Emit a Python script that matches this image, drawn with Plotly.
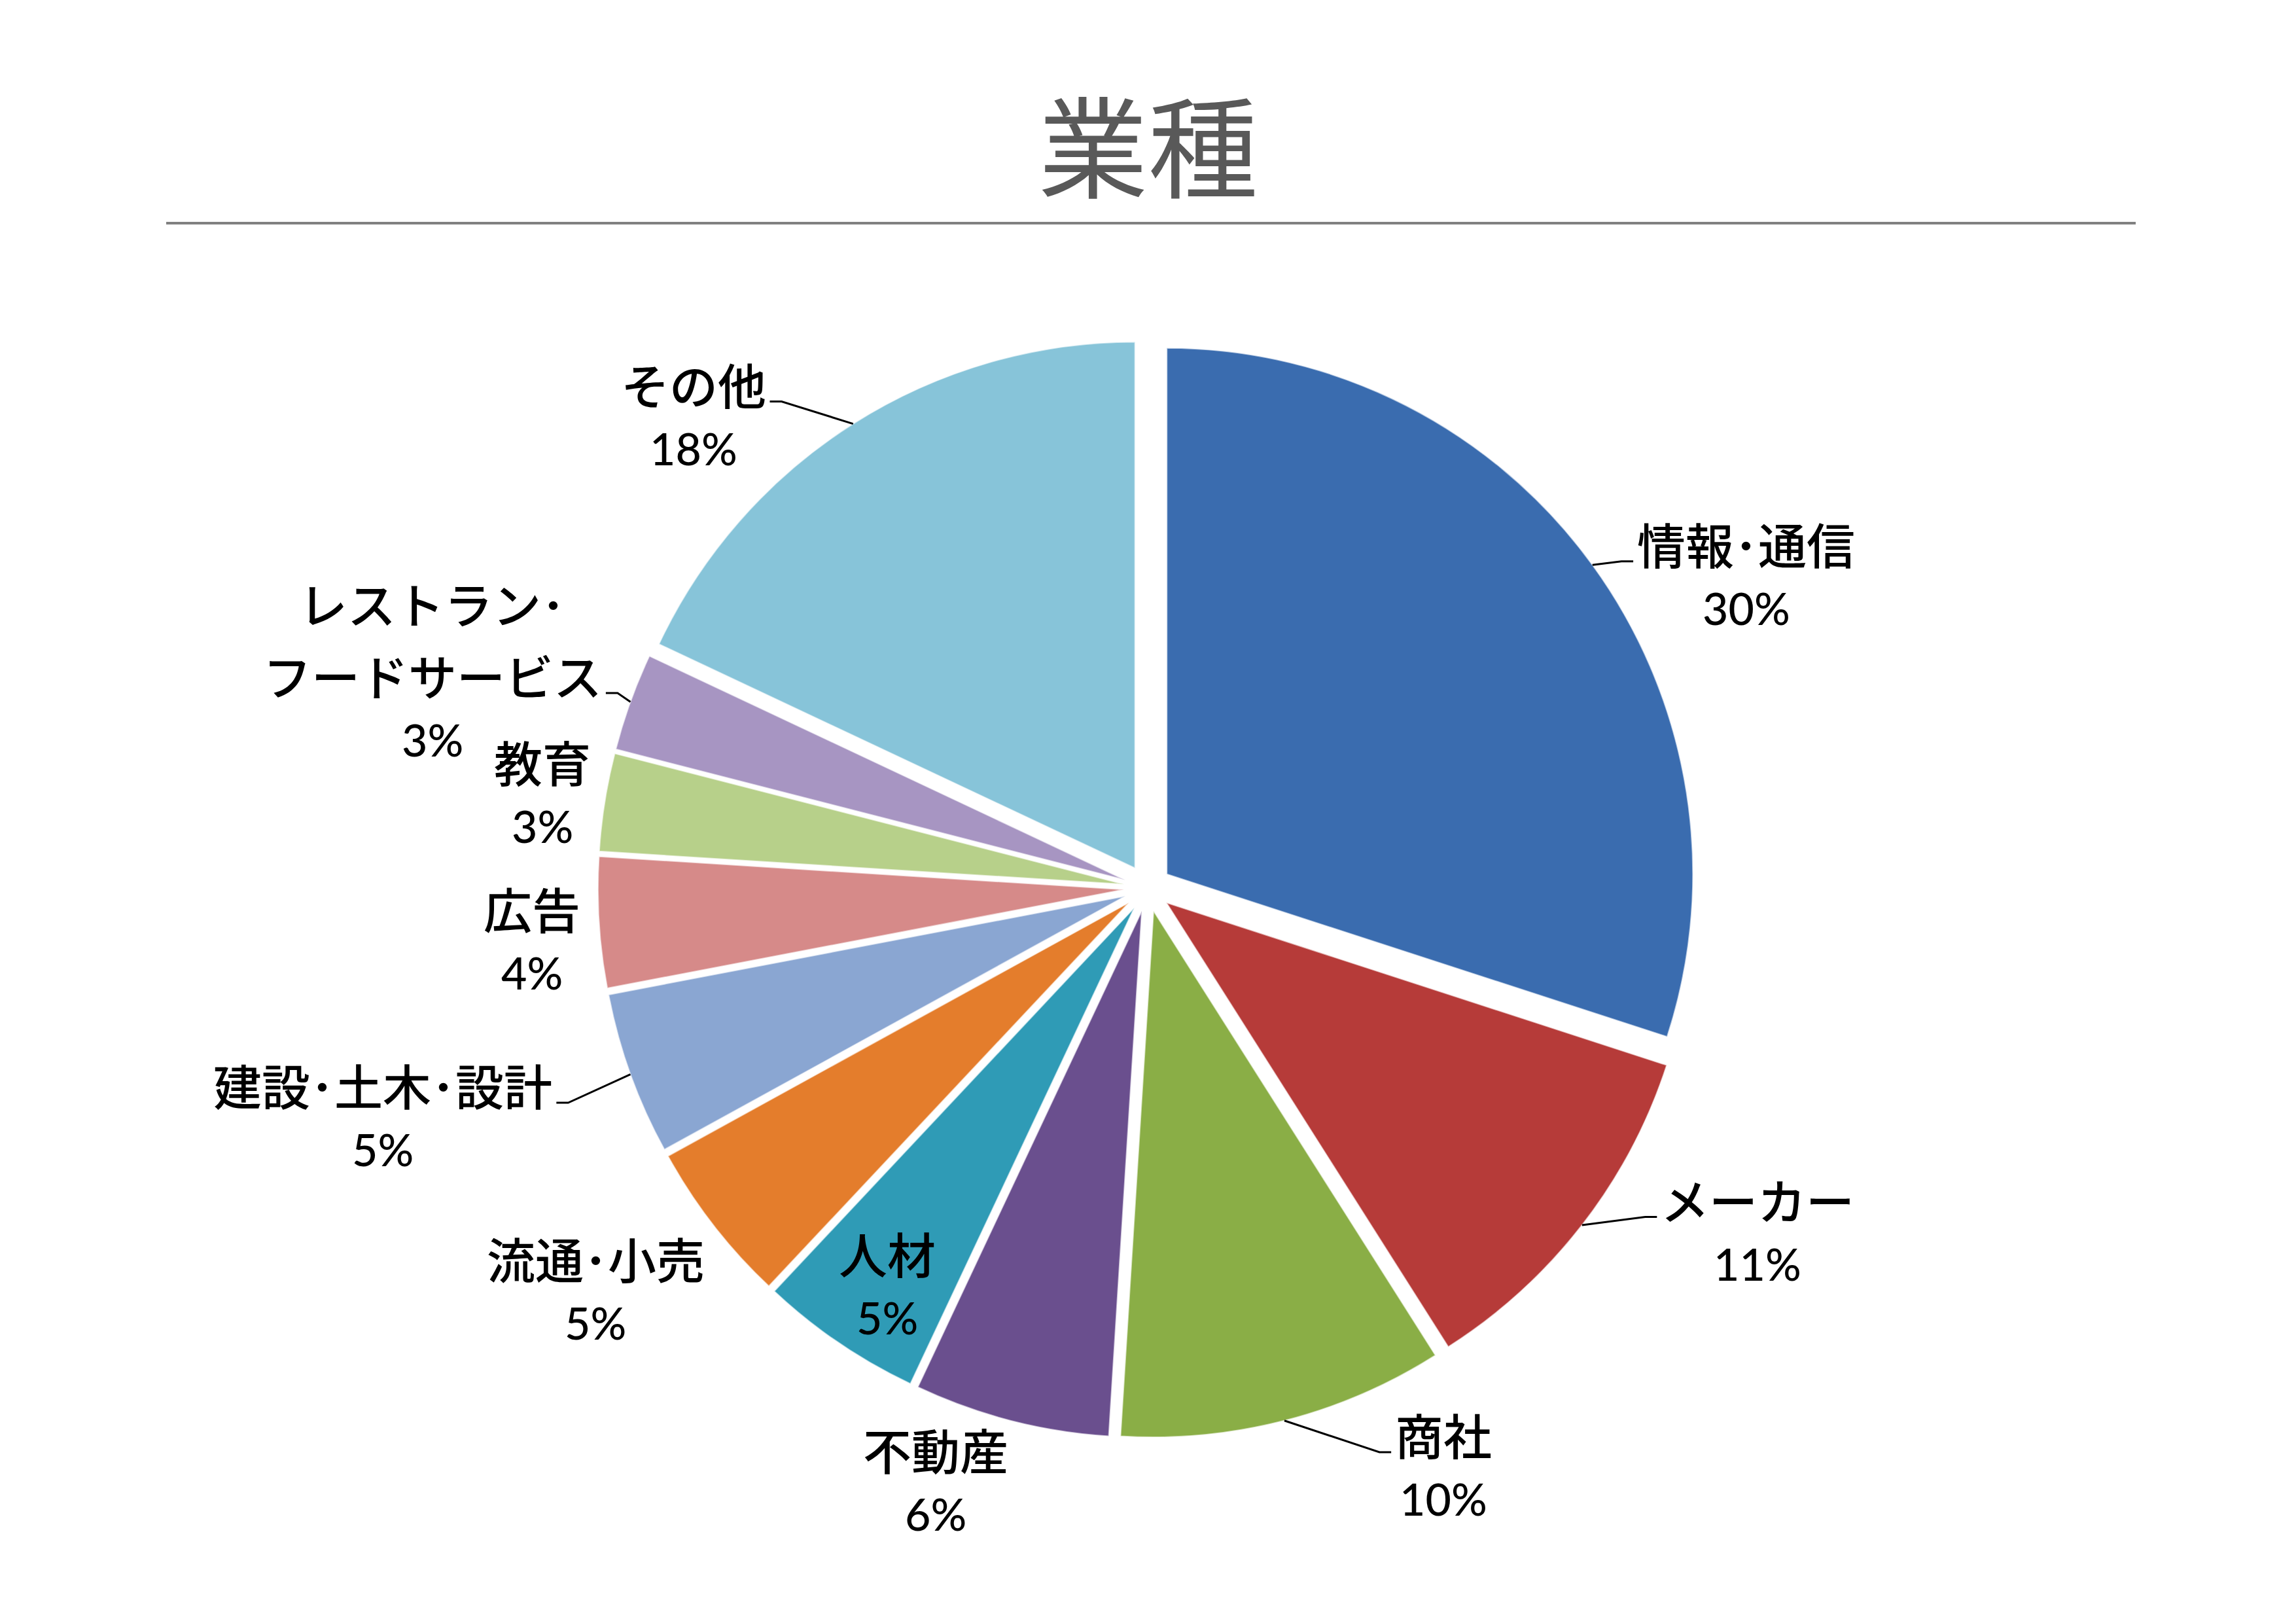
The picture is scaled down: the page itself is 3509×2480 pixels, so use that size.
import math
import plotly.graph_objects as go

# data
industries = ['情報･通信', 'メーカー', '商社', '不動産', '人材', '流通･小売',
              '建設･土木･設計', '広告', '教育', 'レストラン･<br>フードサービス', 'その他']
shares = [30, 11, 10, 6, 5, 5, 5, 4, 3, 3, 18]
colors = ['#3A6CAF', '#B63B39', '#8AAE46', '#6A4F8E', '#2F9BB6', '#E47D2C',
          '#8AA6D2', '#D68A89', '#B7D08A', '#A795C2', '#87C4D9']

# label placement (radius factor, angle nudge in degrees, leader line row or None)
label_r = [1.279, 1.335, 1.243, 1.206, 0.91, 1.304, 1.52, 1.175, 1.163, 1.418, 1.239]
label_da = [8.8, -8.1, -12.5, 5.1, -1.2, 1.4, 2.8, -1.7, -0.6, -3.3, -11.8]
leader_row = [0, 0, 0, None, None, None, 0, None, None, 1, 0]

W, H = 3509, 2480
CX, CY, R = 1754, 1357, 804
PULL = 0.045
FS = 74        # category names
FS_PCT = 68    # percentages
LABEL_DY = -8
font_jp = 'Noto Sans CJK JP'
font_num = 'Lato'


def em_width(s):
    w = 0
    for ch in s:
        if ch == '･':
            w += 0.5
        elif ord(ch) < 128:
            w += 0.56
        else:
            w += 1.0
    return w * FS


def to_paper(x, y):
    return x / W, 1 - y / H


half = R * (1 + PULL)
fig = go.Figure()
fig.add_trace(go.Pie(
    labels=[s.replace('<br>', '') for s in industries],
    values=shares,
    sort=False,
    direction='clockwise',
    rotation=0,
    pull=[PULL] * len(shares),
    marker=dict(colors=colors, line=dict(color='rgba(255,255,255,0.6)', width=2)),
    textinfo='none',
    showlegend=False,
    domain=dict(x=[(CX - half) / W, (CX + half) / W],
                y=[1 - (CY + half) / H, 1 - (CY - half) / H]),
))

total = sum(shares)
annotations = []
shapes = [dict(
    type='line', xref='paper', yref='paper',
    x0=254 / W, x1=3264 / W, y0=1 - 341 / H, y1=1 - 341 / H,
    line=dict(color='#808080', width=4),
)]

# half heights of the text boxes, used to keep rows apart
box_jp = 0.73 * FS
box_num = 0.63 * FS_PCT
base_gap = 1.3 * FS

cum = 0
for i, (name, v) in enumerate(zip(industries, shares)):
    mid = (cum + v / 2) / total * 360
    cum += v
    ang = math.radians(mid + label_da[i])
    lx = CX + R * label_r[i] * math.sin(ang)
    ly = CY - R * label_r[i] * math.cos(ang) + LABEL_DY

    rows = name.split('<br>')
    pct = '%d%%' % round(v / total * 100)
    items = [(r, font_jp, FS, box_jp) for r in rows] + [(pct, font_num, FS_PCT, box_num)]
    offs = [0.0]
    for a, b in zip(items[:-1], items[1:]):
        offs.append(offs[-1] + max(base_gap, a[3] + b[3] + 2))
    shift = offs[-1] / 2
    ys = [ly + o - shift for o in offs]

    for (txt, fam, size, _), yy in zip(items, ys):
        px, py = to_paper(lx, yy)
        annotations.append(dict(
            x=px, y=py, xref='paper', yref='paper',
            text=txt, showarrow=False,
            xanchor='center', yanchor='middle',
            font=dict(family=fam, size=size, color='black', weight=500),
        ))

    if leader_row[i] is not None:
        k = leader_row[i]
        m = math.radians(mid)
        sx = CX + half * math.sin(m)
        sy = CY - half * math.cos(m)
        row_y = ys[k] + 0.38 * FS
        wid = em_width(rows[k])
        if lx < sx:
            ex = lx + wid / 2 + 6
            bx = ex + 18
        else:
            ex = lx - wid / 2 - 6
            bx = ex - 18
        p = [to_paper(sx, sy), to_paper(bx, row_y), to_paper(ex, row_y)]
        shapes.append(dict(
            type='path', xref='paper', yref='paper',
            path='M %f,%f L %f,%f L %f,%f' % (p[0] + p[1] + p[2]),
            line=dict(color='black', width=3),
        ))

fig.update_layout(
    width=W, height=H,
    paper_bgcolor='white',
    plot_bgcolor='white',
    margin=dict(l=0, r=0, t=0, b=0),
    title=dict(
        text='業種',
        x=0.5, xanchor='center',
        y=1 - 231 / H, yanchor='middle',
        font=dict(family=font_jp, size=168, color='#595959'),
    ),
    annotations=annotations,
    shapes=shapes,
)

fig.write_html('out.html', config={'displayModeBar': False},
               post_script="document.body.style.margin='0';")
